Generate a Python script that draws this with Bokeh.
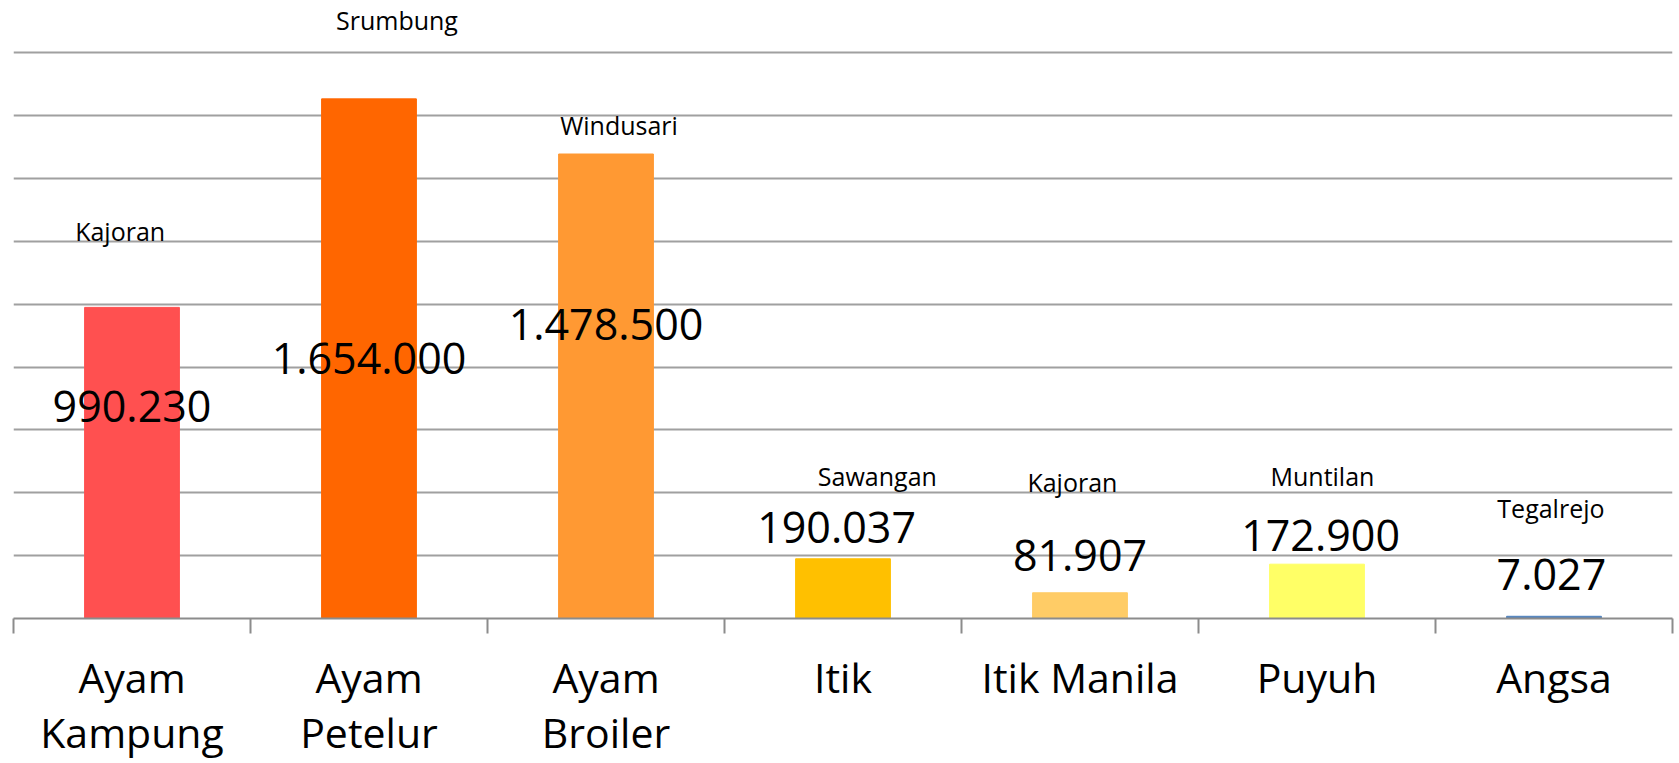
from bokeh.plotting import figure
from bokeh.models import Range1d, FixedTicker, Grid, ColumnDataSource, LinearAxis
from bokeh.core.properties import value
from bokeh.embed import file_html
from bokeh.resources import INLINE

# ---- data ----
categories = ["Ayam Kampung", "Ayam Petelur", "Ayam Broiler", "Itik", "Itik Manila", "Puyuh", "Angsa"]
category_lines = [["Ayam", "Kampung"], ["Ayam", "Petelur"], ["Ayam", "Broiler"],
                  ["Itik"], ["Itik Manila"], ["Puyuh"], ["Angsa"]]
populations = [990230, 1654000, 1478500, 190037, 81907, 172900, 7027]
districts = ["Kajoran", "Srumbung", "Windusari", "Sawangan", "Kajoran", "Muntilan", "Tegalrejo"]
grid_values = [0, 200000, 400000, 600000, 800000, 1000000, 1200000, 1400000, 1600000, 1800000]

# ---- styles / label placement ----
bar_colors = ["#FF5050", "#FF6600", "#FF9933", "#FFC000", "#FFCC66", "#FFFF66", "#4F81BD"]
value_label_dx = [0.0, 0.0, 0.0, -0.027, 0.0, 0.015, -0.011]
value_label_y = [620700, 773500, 882600, 235500, 145500, 209100, 86900]
district_label_dx = [-0.05, 0.118, 0.055, 0.145, -0.032, 0.023, -0.013]
district_label_y = [1200000, 1873800, 1537400, 423300, 402000, 423300, 320500]
FONT = "Open Sans"
Y_TOP = 1967100

n = len(categories)
xc = [i + 0.5 for i in range(n)]
value_texts = [f"{v:,}".replace(",", ".") for v in populations]

src = ColumnDataSource(dict(x=xc, top=populations, color=bar_colors, cat=categories))

p = figure(width=1679, height=763, x_range=Range1d(0, n), y_range=Range1d(0, Y_TOP),
           output_backend="svg", toolbar_location=None, y_axis_location=None,
           min_border_left=13, min_border_right=7, min_border_top=0, min_border_bottom=145)
p.outline_line_color = None
p.background_fill_color = "white"
p.border_fill_color = "white"
p.xgrid.visible = False

if len(p.ygrid):
    g = p.ygrid[0]
    g.ticker = FixedTicker(ticks=grid_values)
    g.grid_line_color = "#a0a0a0"
    g.grid_line_width = 2
else:
    p.add_layout(Grid(dimension=1, ticker=FixedTicker(ticks=grid_values),
                      grid_line_color="#a0a0a0", grid_line_width=2))

p.vbar(x="x", top="top", width=0.4, color="color", source=src)

# category axis: first label lines at centres, tick marks at category boundaries
ax = p.xaxis[0]
ax.ticker = FixedTicker(ticks=xc, minor_ticks=list(range(n + 1)))
ax.major_label_overrides = {x: lines[0] for x, lines in zip(xc, category_lines)}
ax.major_label_text_font = FONT
ax.major_label_text_font_size = "41px"
ax.major_label_text_color = "black"
ax.major_label_standoff = 15
ax.axis_line_color = "#8c8c8c"
ax.axis_line_width = 2
ax.major_tick_line_color = None
ax.major_tick_out = 15
ax.major_tick_in = 0
ax.minor_tick_line_color = "#8c8c8c"
ax.minor_tick_line_width = 2
ax.minor_tick_out = 15
ax.minor_tick_in = 0

# second lines of the wrapped category labels
sec_x = [x for x, lines in zip(xc, category_lines) if len(lines) > 1]
sec_t = [lines[1] for lines in category_lines if len(lines) > 1]
ax2 = LinearAxis(ticker=FixedTicker(ticks=sec_x, minor_ticks=[]),
                 major_label_overrides=dict(zip(sec_x, sec_t)),
                 axis_line_color=None, major_tick_line_color=None, minor_tick_line_color=None,
                 major_tick_out=0, major_tick_in=0, minor_tick_out=0, minor_tick_in=0,
                 major_label_text_font=FONT, major_label_text_font_size="41px",
                 major_label_text_color="black", major_label_standoff=-4)
p.add_layout(ax2, "below")

# value labels
p.text(x=[x + d for x, d in zip(xc, value_label_dx)], y=value_label_y, text=value_texts,
       text_font=value(FONT), text_font_size="43px", text_color="black",
       text_align="center", text_baseline="alphabetic", y_offset=-17)

# district labels
p.text(x=[x + d for x, d in zip(xc, district_label_dx)], y=district_label_y, text=districts,
       text_font=value(FONT), text_font_size="25px", text_color="black",
       text_align="center", text_baseline="alphabetic", y_offset=-10)

open("out.html", "w").write(file_html(p, INLINE))
